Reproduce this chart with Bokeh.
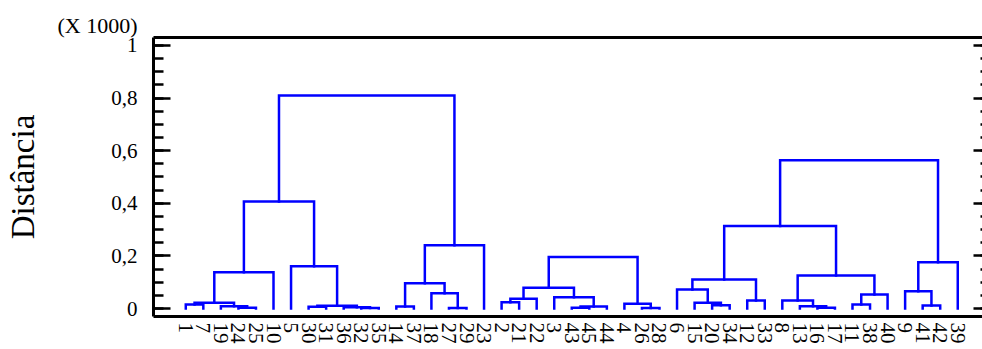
from bokeh.plotting import figure
from bokeh.models import (LinearAxis, FixedTicker, SingleIntervalTicker,
                          Range1d, ColumnDataSource)
from bokeh.embed import file_html
from bokeh.resources import INLINE

# Leaf order along the horizontal axis
leaf_labels = ["1", "7", "19", "24", "25", "10", "5", "30", "31", "36", "32", "35",
               "14", "37", "18", "27", "29", "23",
               "2", "21", "22", "3", "43", "45", "44", "4", "26", "28",
               "6", "15", "20", "34", "12", "33", "8", "13", "16", "17", "11", "38",
               "40", "9", "41", "42", "39"]

# Agglomeration steps: (new node, left child, right child, distance)
group_a = [
    ("a1", "1", "7", 15),
    ("a2", "24", "25", 3),
    ("a3", "19", "a2", 9),
    ("a4", "a1", "a3", 22),
    ("a5", "a4", "10", 138),
    ("a6", "30", "31", 7),
    ("a7", "32", "35", 2),
    ("a8", "36", "a7", 5),
    ("a9", "a6", "a8", 10),
    ("a10", "5", "a9", 161),
    ("a11", "a5", "a10", 407),
    ("a12", "14", "37", 8),
    ("a13", "27", "29", 2),
    ("a14", "18", "a13", 58),
    ("a15", "a12", "a14", 96),
    ("a16", "a15", "23", 240),
    ("a17", "a11", "a16", 810),
]
group_b = [
    ("b1", "2", "21", 24),
    ("b2", "b1", "22", 37),
    ("b3", "43", "45", 3),
    ("b4", "b3", "44", 8),
    ("b5", "3", "b4", 43),
    ("b6", "b2", "b5", 79),
    ("b7", "26", "28", 2),
    ("b8", "4", "b7", 18),
    ("b9", "b6", "b8", 196),
]
group_c = [
    ("c1", "20", "34", 12),
    ("c2", "15", "c1", 22),
    ("c3", "6", "c2", 72),
    ("c4", "12", "33", 30),
    ("c5", "c3", "c4", 110),
    ("c6", "16", "17", 3),
    ("c7", "13", "c6", 9),
    ("c8", "8", "c7", 30),
    ("c9", "11", "38", 15),
    ("c10", "c9", "40", 53),
    ("c11", "c8", "c10", 125),
    ("c12", "c5", "c11", 314),
    ("c13", "41", "42", 11),
    ("c14", "9", "c13", 66),
    ("c15", "c14", "39", 176),
    ("c16", "c12", "c15", 563),
]

y_tick_labels = {0: "0", 200: "0,2", 400: "0,4", 600: "0,6", 800: "0,8", 1000: "1"}

# Build the bracket paths of the dendrogram
xpos = {lab: float(i) for i, lab in enumerate(leaf_labels)}
hgt = {lab: 0.0 for lab in leaf_labels}
xs, ys = [], []
for node, a, b, h in group_a + group_b + group_c:
    xs.append([xpos[a], xpos[a], xpos[b], xpos[b]])
    ys.append([hgt[a], h, h, hgt[b]])
    xpos[node] = (xpos[a] + xpos[b]) / 2.0
    hgt[node] = h
src = ColumnDataSource(dict(xs=xs, ys=ys))

SERIF = "Liberation Serif"

p = figure(width=982, height=349, output_backend="svg", toolbar_location=None,
           x_range=Range1d(-1.84, 45.41), y_range=Range1d(-30.4, 1030),
           min_border_left=153, min_border_right=0, min_border_top=37,
           min_border_bottom=33)
p.outline_line_color = None
p.grid.visible = False
p.background_fill_color = "white"
p.border_fill_color = "white"

# Scale multiplier note, shown as the title at the top left
p.title.text = "(X 1000)"
p.title.align = "left"
p.title.offset = -96
p.title.standoff = 0
p.title.text_font = SERIF
p.title.text_font_size = "22px"
p.title.text_font_style = "normal"
p.title.text_color = "black"

p.multi_line("xs", "ys", source=src, line_color="#0000FF", line_width=2.5,
             line_join="miter", line_cap="square")

# Left distance axis
ya = p.yaxis[0]
ya.ticker = SingleIntervalTicker(interval=200, num_minor_ticks=4)
ya.major_label_overrides = y_tick_labels
ya.major_tick_in = 17
ya.major_tick_out = 0
ya.minor_tick_in = 10
ya.minor_tick_out = 0
ya.axis_line_width = 3
ya.major_tick_line_width = 2.5
ya.minor_tick_line_width = 2.5
ya.major_label_standoff = 16
ya.major_label_text_font = SERIF
ya.major_label_text_font_size = "21px"
ya.major_label_text_color = "black"
ya.axis_label = "Distância"
ya.axis_label_text_font = SERIF
ya.axis_label_text_font_size = "33px"
ya.axis_label_text_font_style = "normal"
ya.axis_label_text_color = "black"
ya.axis_label_standoff = 67

# Bottom leaf axis
xa = p.xaxis[0]
xa.ticker = FixedTicker(ticks=list(range(len(leaf_labels))))
xa.major_label_overrides = {i: lab for i, lab in enumerate(leaf_labels)}
xa.major_label_orientation = "vertical"
xa.major_tick_in = 0
xa.major_tick_out = 0
xa.minor_tick_line_color = None
xa.axis_line_width = 3
xa.major_label_standoff = 6
xa.major_label_text_font = SERIF
xa.major_label_text_font_size = "21px"
xa.major_label_text_color = "black"

# Right axis: inward ticks only, no labels
ra = LinearAxis(ticker=SingleIntervalTicker(interval=200, num_minor_ticks=4))
ra.axis_line_color = None
ra.major_tick_in = 9
ra.major_tick_out = 0
ra.minor_tick_in = 2
ra.minor_tick_out = 0
ra.major_tick_line_width = 2.5
ra.minor_tick_line_width = 2.5
ra.major_label_text_font_size = "0px"
ra.major_label_text_color = None
ra.major_label_standoff = 0
p.add_layout(ra, "right")

# Top frame line
ta = LinearAxis(ticker=FixedTicker(ticks=[]))
ta.axis_line_width = 3
ta.major_tick_line_color = None
ta.minor_tick_line_color = None
ta.major_label_text_font_size = "0px"
ta.major_label_text_color = None
ta.major_label_standoff = 0
p.add_layout(ta, "above")

open("out.html", "w").write(file_html(p, INLINE))
